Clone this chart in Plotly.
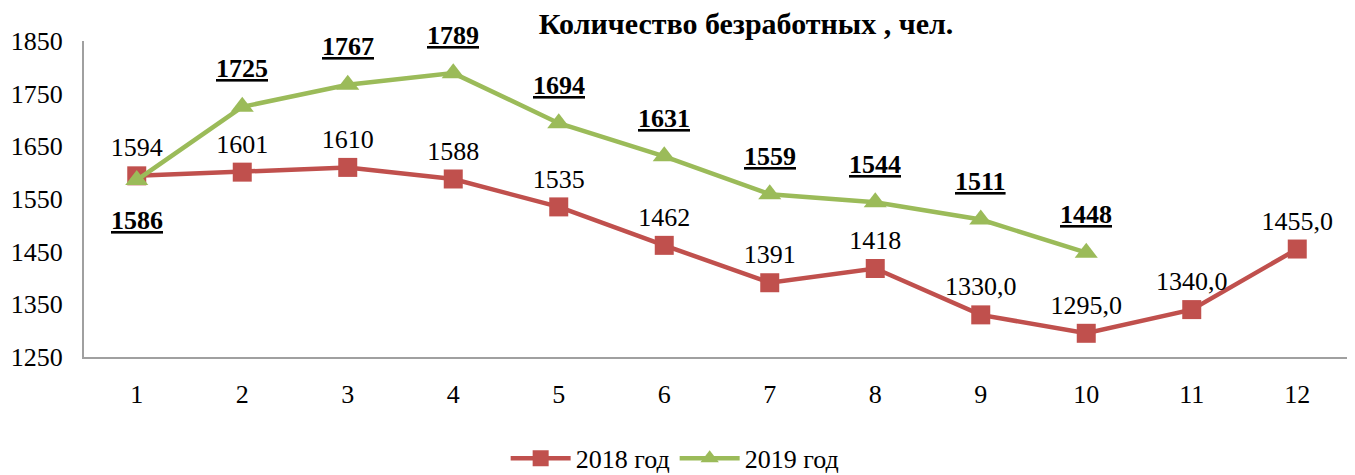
import plotly.graph_objects as go

months = [1, 2, 3, 4, 5, 6, 7, 8, 9, 10, 11, 12]
y2018 = [1594, 1601, 1610, 1588, 1535, 1462, 1391, 1418, 1330, 1295, 1340, 1455]
labels2018 = ["1594", "1601", "1610", "1588", "1535", "1462", "1391", "1418",
              "1330,0", "1295,0", "1340,0", "1455,0"]
months2019 = [1, 2, 3, 4, 5, 6, 7, 8, 9, 10]
y2019 = [1586, 1725, 1767, 1789, 1694, 1631, 1559, 1544, 1511, 1448]
labels2019 = [str(v) for v in y2019]
yticks = [1250, 1350, 1450, 1550, 1650, 1750, 1850]

RED = "#C0504D"
GREEN = "#9BBB59"
FONT = "Liberation Serif"

fig = go.Figure()
fig.add_trace(go.Scatter(
    x=months, y=y2018, name="2018 год", mode="lines+markers+text",
    line=dict(color=RED, width=4.5),
    marker=dict(symbol="square", size=19, color=RED),
    text=labels2018, textposition="top center",
    textfont=dict(family=FONT, size=26, color="black"),
))
fig.add_trace(go.Scatter(
    x=months2019, y=y2019, name="2019 год", mode="lines+markers",
    line=dict(color=GREEN, width=4.5),
    marker=dict(symbol="triangle-up", size=20, color=GREEN),
))
# bold underlined labels for 2019
for i, (xv, yv, t) in enumerate(zip(months2019, y2019, labels2019)):
    fig.add_annotation(
        x=xv, y=yv, text="<b><u>" + t + "</u></b>", showarrow=False,
        yshift=(-40 if i == 0 else 38),
        font=dict(family=FONT, size=26, color="black"),
    )

fig.update_layout(
    width=1355, height=475,
    margin=dict(l=76, r=13, t=33, b=126, autoexpand=False),
    paper_bgcolor="white", plot_bgcolor="white",
    title=dict(text="<b>Количество безработных , чел.</b>",
               font=dict(family=FONT, size=30, color="black"),
               x=0.5447, xanchor="center", y=0.968, yanchor="middle"),
    xaxis=dict(range=[0.5, 12.5], tickmode="array", tickvals=months,
               ticktext=[str(m) for m in months],
               showgrid=False, zeroline=False, showline=True,
               linecolor="#A0A0A0", linewidth=2, ticks="",
               ticklabelstandoff=13, automargin=False,
               tickfont=dict(family=FONT, size=26, color="black")),
    yaxis=dict(range=[1250, 1850], tickmode="array", tickvals=yticks,
               showgrid=False, zeroline=False, showline=True,
               linecolor="#A0A0A0", linewidth=2, ticks="",
               ticklabelstandoff=14, automargin=False,
               tickfont=dict(family=FONT, size=26, color="black")),
    showlegend=True,
    legend=dict(orientation="h", xref="container", yref="container",
                x=0.492, xanchor="center", y=0.052, yanchor="middle",
                font=dict(family=FONT, size=26, color="black"),
                itemwidth=60, tracegroupgap=0),
)

fig.write_html("out.html")
